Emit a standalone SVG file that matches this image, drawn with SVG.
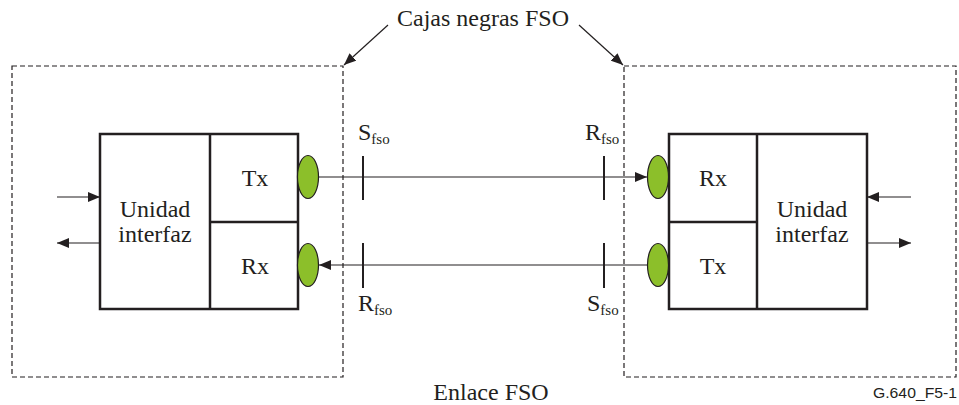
<svg xmlns="http://www.w3.org/2000/svg" width="959" height="405" viewBox="0 0 959 405">
<style>
.t{font-family:"Liberation Serif","Times New Roman",serif;fill:#231f20}
.big{font-size:24px}
.sub{font-size:15px}
.dash{fill:none;stroke:#231f20;stroke-width:1.2;stroke-dasharray:5,3}
.box{fill:#fff;stroke:#231f20;stroke-width:2.5}
.ln{fill:none;stroke:#231f20;stroke-width:1.2}
.tick{stroke:#231f20;stroke-width:2}
.ov{fill:#8cbf2a;stroke:#231f20;stroke-width:1.2}
</style>
<defs>
<marker id="ah" markerWidth="12" markerHeight="10" refX="12" refY="5" orient="auto" markerUnits="userSpaceOnUse">
<path d="M0,0 L12,5 L0,10 z" fill="#231f20"/>
</marker>
</defs>
<rect width="959" height="405" fill="#fff"/>
<g id="blackbox-left"><rect class="dash" x="12" y="66" width="331" height="311"/></g>
<g id="blackbox-right"><rect class="dash" x="624" y="66" width="332" height="311"/></g>
<g id="unit-left">
<rect class="box" x="100" y="134" width="198" height="175"/>
<line class="box" x1="210" y1="134" x2="210" y2="309"/>
<line class="box" x1="210" y1="222" x2="298" y2="222"/>
<text class="t big" x="155" y="217" text-anchor="middle">Unidad</text>
<text class="t big" x="155" y="242" text-anchor="middle">interfaz</text>
<text class="t big" x="255" y="186" text-anchor="middle">Tx</text>
<text class="t big" x="255" y="274" text-anchor="middle">Rx</text>
<ellipse class="ov" cx="308" cy="177" rx="10.5" ry="21.5"/>
<ellipse class="ov" cx="308" cy="265" rx="10.5" ry="21.5"/>
</g>
<g id="unit-right">
<rect class="box" x="669" y="134" width="198" height="175"/>
<line class="box" x1="757" y1="134" x2="757" y2="309"/>
<line class="box" x1="669" y1="222" x2="757" y2="222"/>
<text class="t big" x="812" y="217" text-anchor="middle">Unidad</text>
<text class="t big" x="812" y="242" text-anchor="middle">interfaz</text>
<text class="t big" x="713" y="186" text-anchor="middle">Rx</text>
<text class="t big" x="713" y="274" text-anchor="middle">Tx</text>
<ellipse class="ov" cx="658" cy="177" rx="10.5" ry="21.5"/>
<ellipse class="ov" cx="658" cy="265" rx="10.5" ry="21.5"/>
</g>
<g id="connectors">
<line class="ln" x1="319" y1="177" x2="647" y2="177" marker-end="url(#ah)"/>
<line class="ln" x1="648" y1="265" x2="319" y2="265" marker-end="url(#ah)"/>
<line class="ln" x1="57" y1="197" x2="100" y2="197" marker-end="url(#ah)"/>
<line class="ln" x1="100" y1="243" x2="57" y2="243" marker-end="url(#ah)"/>
<line class="ln" x1="911" y1="197" x2="867" y2="197" marker-end="url(#ah)"/>
<line class="ln" x1="867" y1="243" x2="911" y2="243" marker-end="url(#ah)"/>
<line class="ln" x1="388" y1="25" x2="344" y2="65" marker-end="url(#ah)"/>
<line class="ln" x1="579" y1="25" x2="623" y2="65" marker-end="url(#ah)"/>
<line class="tick" x1="363" y1="156" x2="363" y2="200"/>
<line class="tick" x1="363" y1="243" x2="363" y2="288"/>
<line class="tick" x1="604" y1="156" x2="604" y2="200"/>
<line class="tick" x1="604" y1="243" x2="604" y2="288"/>
</g>
<g id="labels">
<text class="t big" x="358" y="140">S<tspan class="sub" dy="4">fso</tspan></text>
<text class="t big" x="585" y="140">R<tspan class="sub" dy="4">fso</tspan></text>
<text class="t big" x="358" y="311">R<tspan class="sub" dy="4">fso</tspan></text>
<text class="t big" x="587" y="311">S<tspan class="sub" dy="4">fso</tspan></text>
<text class="t big" x="483" y="26" text-anchor="middle">Cajas negras FSO</text>
<text class="t big" x="491" y="400" text-anchor="middle">Enlace FSO</text>
<text x="873" y="398" font-family="Liberation Sans, Arial, sans-serif" font-size="15" fill="#231f20" textLength="84" lengthAdjust="spacingAndGlyphs">G.640_F5-1</text>
</g>
</svg>
